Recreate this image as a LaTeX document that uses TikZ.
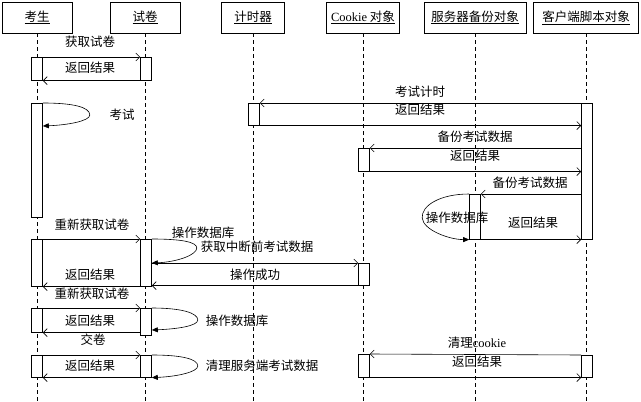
\documentclass[tikz,border=0pt]{standalone}
\usepackage{fontspec}
\setmainfont{Noto Sans CJK SC}
\newfontfamily\lat{Liberation Serif}
\usetikzlibrary{arrows.meta,calc}
\begin{document}
\begin{tikzpicture}[x=1pt,y=-1pt,
  font=\fontsize{12.5}{14}\selectfont,
  line width=0.6pt,
  hdr/.style={draw, fill=white, minimum height=31pt, inner sep=0pt},
  act/.style={draw, fill=white, minimum width=11pt, inner sep=0pt, anchor=north},
  life/.style={dash pattern=on 4pt off 3pt},
  msg/.style={-{Straight Barb[length=4pt,width=8pt]}},
  selfmsg/.style={-{Triangle[length=6pt,width=5pt]}},
  lbl/.style={inner sep=0pt}]
\fill[white] (0,0) rectangle (641,402);
\useasboundingbox (0,0) rectangle (641,402);
% headers
\node[hdr, minimum width=70pt]  (hA) at (37,17.5)  {\underline{考生}};
\node[hdr, minimum width=70pt]  (hB) at (145,17.5) {\underline{试卷}};
\node[hdr, minimum width=63pt]  (hC) at (253,17.5) {\underline{计时器}};
\node[hdr, minimum width=73pt]  (hD) at (363,17.5) {\underline{{\lat Cookie} 对象}};
\node[hdr, minimum width=102pt] (hE) at (475,17.5) {\underline{服务器备份对象}};
\node[hdr, minimum width=105pt] (hF) at (586,17.5) {\underline{客户端脚本对象}};
% lifelines
\foreach \h in {hA,hB,hC,hD,hE,hF}
  \draw[life] (\h.south) -- ++(0,370);
% activations
\node[act, minimum height=23pt]  (a1) at (37,57) {};
\node[act, minimum height=23pt]  (b1) at (146,57) {};
\node[act, minimum height=114pt] (a2) at (37,103) {};
\node[act, minimum height=22pt]  (c1) at (254,103) {};
\node[act, minimum height=136pt] (f1) at (587,103) {};
\node[act, minimum height=23pt]  (d1) at (364,148) {};
\node[act, minimum height=45pt]  (e1) at (475,194) {};
\node[act, minimum height=47pt]  (a3) at (37,239) {};
\node[act, minimum height=47pt]  (b2) at (146,239) {};
\node[act, minimum height=22pt]  (d2) at (364,263) {};
\node[act, minimum height=24pt]  (a4) at (37,308) {};
\node[act, minimum height=27pt]  (b3) at (146,308) {};
\node[act, minimum height=22pt]  (a5) at (37,355) {};
\node[act, minimum height=22pt]  (b4) at (146,355) {};
\node[act, minimum height=23pt]  (d3) at (364,354) {};
\node[act, minimum height=22pt]  (f2) at (587,355) {};
% self-call end points
\coordinate (a2r) at ([yshift=-23pt]a2.north east);
\coordinate (b2r) at (b2.east |- d2.north);
\coordinate (b3r) at ([yshift=-22pt]b3.north east);
% messages
\draw[msg] (a1.north east) -- (b1.north west);
\draw[msg] (b1.south west) -- (a1.south east);
\draw[selfmsg] (a2.north east) .. controls ($(a2.north east)+(30,0)$) and ($(a2.north east)+(47,4)$)
  .. ($(a2.north east)+(47,12)$) .. controls ($(a2.north east)+(47,18)$) and ($(a2r)+(25,-1)$) .. (a2r);
\draw[msg] (f1.north west) -- (c1.north east);
\draw[msg] (c1.south east) -- (c1.south east -| f1.west);
\draw[msg] (d1.north -| f1.west) -- (d1.north east);
\draw[msg] (d1.south east) -- (d1.south east -| f1.west);
\draw[msg] (e1.north -| f1.west) -- (e1.north east);
\draw[selfmsg] (e1.north west) .. controls ($(e1.north west)+(-30,0)$) and ($(e1.north west)+(-48,12)$)
  .. ($(e1.north west)+(-47,24)$) .. controls ($(e1.north west)+(-46,36)$) and ($(e1.south west)+(-20,0)$) .. (e1.south west);
\draw[msg] (e1.south east) -- (e1.south east -| f1.west);
\draw[msg] (a3.north east) -- (b2.north west);
\draw[selfmsg] (b2.north east) .. controls ($(b2.north east)+(30,0)$) and ($(b2.north east)+(45,3)$)
  .. ($(b2.north east)+(45,9)$) .. controls ($(b2.north east)+(45,16)$) and ($(b2r)+(25,-1)$) .. (b2r);
\draw[msg] (b2r) -- (d2.north west);
\draw[msg] (d2.south west) -- (d2.south west -| b2.east);
\draw[msg] (b2.south west) -- (a3.south east);
\draw[msg] (a4.north east) -- (b3.north west);
\draw[selfmsg] (b3.north east) .. controls ($(b3.north east)+(30,0)$) and ($(b3.north east)+(46,5)$)
  .. ($(b3.north east)+(46,12)$) .. controls ($(b3.north east)+(46,18)$) and ($(b3r)+(25,-1)$) .. (b3r);
\draw[msg] (b3.west |- a4.south) -- (a4.south east);
\draw[msg] (a5.north east) -- (b4.north west);
\draw[selfmsg] (b4.north east) .. controls ($(b4.north east)+(30,0)$) and ($(b4.north east)+(46,4)$)
  .. ($(b4.north east)+(46,11)$) .. controls ($(b4.north east)+(46,17)$) and ($(b4.south east)+(25,-1)$) .. (b4.south east);
\draw[msg] (b4.south west) -- (a5.south east);
\draw[msg] (f2.north west) -- (d3.north east);
\draw[msg] (d3.south east) -- (f2.south west);
% labels
\node[lbl] (t1)  at (90,42)   {获取试卷};
\node[lbl] (t2)  at (90,68)   {返回结果};
\node[lbl] (t3)  at (122,115) {考试};
\node[lbl] (t4)  at (420,92)  {考试计时};
\node[lbl] (t5)  at (420,110) {返回结果};
\node[lbl] (t6)  at (475,137) {备份考试数据};
\node[lbl] (t7)  at (475,156) {返回结果};
\node[lbl] (t8)  at (530,183) {备份考试数据};
\node[lbl] (t9)  at (457,218) {操作数据库};
\node[lbl] (t10) at (533,223) {返回结果};
\node[lbl] (t11) at (92,225)  {重新获取试卷};
\node[lbl] (t12) at (203,233) {操作数据库};
\node[lbl] (t13) at (257,247) {获取中断前考试数据};
\node[lbl] (t14) at (255,275) {操作成功};
\node[lbl] (t15) at (90,275)  {返回结果};
\node[lbl] (t16) at (92,294)  {重新获取试卷};
\node[lbl] (t17) at (90,321)  {返回结果};
\node[lbl] (t18) at (237,321) {操作数据库};
\node[lbl] (t19) at (93,340)  {交卷};
\node[lbl] (t20) at (90,366)  {返回结果};
\node[lbl] (t21) at (262,366) {清理服务端考试数据};
\node[lbl] (t22) at (477,343) {清理{\lat cookie}};
\node[lbl] (t23) at (477,362) {返回结果};
\end{tikzpicture}
\end{document}
